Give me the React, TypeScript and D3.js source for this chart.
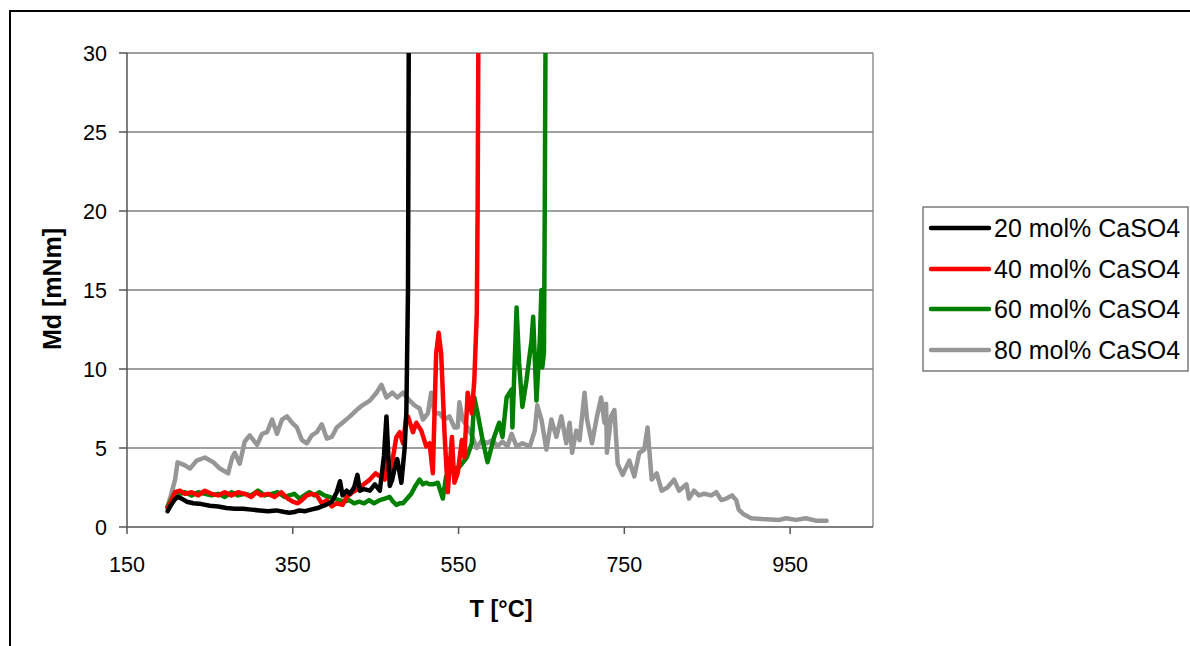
import React from "react";
import * as d3 from "d3";

const xTicks = [150, 350, 550, 750, 950];
const yTicks = [0, 5, 10, 15, 20, 25, 30];

const seriesNames = ["20 mol% CaSO4", "40 mol% CaSO4", "60 mol% CaSO4", "80 mol% CaSO4"];
const seriesColors = ["#000000", "#ff0000", "#008000", "#969696"];

// [T (°C), Md (mNm)]
const black20: [number, number][] = [
  [199, 1.0], [202, 1.3], [207, 1.7], [211, 1.9], [216, 1.8], [222, 1.6], [230, 1.5], [240, 1.45],
  [250, 1.35], [260, 1.3], [270, 1.2], [280, 1.15], [290, 1.15], [300, 1.1], [310, 1.05], [320, 1.0],
  [330, 1.05], [340, 0.95], [346, 0.9], [352, 0.95], [358, 1.05], [365, 1.0], [372, 1.1], [380, 1.2],
  [385, 1.3], [390, 1.4], [397, 1.6], [403, 2.2], [407, 2.9], [410, 2.0], [415, 2.3], [419, 2.1],
  [424, 2.5], [428, 3.3], [431, 2.3], [436, 2.4], [443, 2.3], [449, 2.7], [455, 2.3], [460, 4.5],
  [463, 7.0], [467, 2.6], [470, 3.0], [472, 3.5], [476, 4.3], [481, 2.8], [485, 5.0], [487, 7.2],
  [489, 15], [490, 32],
];

const red40: [number, number][] = [
  [199, 1.2], [203, 1.6], [208, 2.2], [214, 2.3], [220, 2.1], [228, 2.2], [236, 2.0], [244, 2.3],
  [252, 2.1], [260, 2.0], [268, 2.2], [276, 2.0], [284, 2.2], [292, 2.1], [300, 1.9], [306, 2.2],
  [312, 2.0], [320, 2.1], [328, 1.9], [336, 2.2], [344, 1.8], [350, 1.6], [356, 1.5], [361, 1.7],
  [367, 2.0], [373, 2.1], [379, 2.0], [385, 1.5], [391, 1.7], [397, 1.3], [403, 1.5], [410, 1.4],
  [415, 1.9], [422, 2.2], [431, 2.5], [438, 2.8], [443, 3.0], [450, 3.4], [455, 3.2], [461, 3.0],
  [464, 4.7], [467, 3.4], [470, 4.1], [475, 5.7], [479, 6.0], [483, 5.3], [487, 7.0], [489, 7.0],
  [495, 6.0], [499, 6.6], [505, 6.1], [511, 5.1], [515, 5.3], [519, 3.4], [523, 11.0], [526, 12.3],
  [529, 11.0], [533, 6.0], [537, 2.2], [542, 5.7], [545, 2.8], [549, 3.4], [554, 5.5], [557, 4.4],
  [561, 8.5], [566, 7.2], [569, 9.3], [572, 13.5], [573, 20], [574, 32],
];

const green60: [number, number][] = [
  [199, 1.3], [203, 1.7], [208, 2.2], [214, 2.1], [220, 2.2], [228, 2.0], [236, 2.2], [244, 2.1],
  [252, 2.0], [260, 2.1], [268, 1.9], [276, 2.2], [284, 2.0], [292, 2.1], [300, 2.0], [308, 2.3],
  [316, 2.0], [324, 2.1], [332, 2.2], [340, 1.9], [346, 2.0], [352, 2.1], [358, 1.8], [364, 2.0],
  [370, 2.2], [376, 2.0], [382, 2.2], [388, 2.0], [394, 1.9], [400, 1.8], [406, 1.7], [412, 1.6],
  [418, 1.7], [424, 1.5], [430, 1.6], [436, 1.5], [442, 1.7], [448, 1.5], [455, 1.7], [461, 1.8],
  [467, 1.9], [471, 1.6], [475, 1.4], [479, 1.5], [483, 1.5], [488, 1.8], [493, 2.1], [498, 2.6],
  [503, 3.0], [507, 2.7], [511, 2.8], [515, 2.7], [519, 2.7], [525, 2.8], [531, 1.8], [535, 3.2],
  [542, 3.6], [551, 3.8], [560, 4.4], [566, 5.3], [569, 8.2], [573, 7.2], [579, 5.5], [585, 4.1],
  [593, 5.7], [599, 6.6], [603, 5.7], [608, 8.2], [614, 8.7], [615, 6.3], [620, 13.9], [623, 10.4],
  [627, 7.6], [632, 9.3], [638, 11.8], [640, 13.3], [644, 8.0], [648, 11.8], [650, 15], [651, 10.1],
  [653, 11], [654, 20], [655, 32],
];

const gray80: [number, number][] = [
  [199, 1.3], [203, 2.0], [208, 3.0], [211, 4.1], [220, 3.9], [226, 3.7], [234, 4.2], [244, 4.4],
  [254, 4.1], [262, 3.7], [272, 3.4], [277, 4.4], [280, 4.7], [286, 4.0], [292, 5.4], [298, 5.8],
  [307, 5.2], [313, 5.9], [319, 6.0], [325, 6.8], [331, 5.9], [337, 6.8], [343, 7.0], [349, 6.6],
  [355, 6.3], [361, 5.5], [367, 5.3], [373, 5.8], [379, 6.0], [385, 6.5], [391, 5.6], [397, 5.7],
  [403, 6.3], [410, 6.6], [419, 7.0], [427, 7.4], [434, 7.7], [443, 8.0], [451, 8.5], [457, 9.0],
  [463, 8.2], [470, 8.5], [476, 8.2], [483, 8.5], [491, 8.0], [497, 7.7], [503, 7.5], [507, 6.8],
  [513, 7.2], [517, 8.5], [521, 7.2], [527, 7.2], [533, 6.8], [539, 7.0], [545, 6.3], [549, 6.3],
  [551, 7.9], [555, 6.8], [561, 6.3], [567, 5.7], [572, 5.0], [578, 5.5], [584, 5.3], [591, 5.5],
  [597, 5.1], [603, 5.4], [609, 5.1], [614, 5.9], [620, 5.1], [627, 5.3], [636, 5.1], [642, 6.1],
  [645, 7.7], [650, 6.8], [656, 4.9], [662, 6.8], [668, 5.7], [674, 7.0], [680, 5.3], [684, 6.6],
  [687, 4.7], [692, 6.1], [696, 5.5], [702, 8.5], [705, 6.8], [711, 5.3], [717, 7.0], [722, 8.2],
  [726, 6.6], [728, 7.8], [729, 4.7], [734, 7.0], [738, 7.4], [742, 4.0], [748, 3.3], [756, 4.2],
  [762, 3.2], [768, 4.7], [774, 4.9], [778, 6.3], [783, 3.0], [789, 3.4], [795, 2.3], [802, 2.5],
  [810, 3.0], [816, 2.3], [825, 2.7], [828, 1.8], [834, 2.3], [840, 2.0], [846, 2.1], [855, 2.0],
  [861, 2.2], [867, 1.7], [873, 1.8], [880, 2.0], [885, 1.7], [888, 1.1], [894, 0.8], [903, 0.55],
  [916, 0.5], [937, 0.45], [945, 0.55], [957, 0.45], [969, 0.55], [981, 0.4], [994, 0.4],
];

const allSeries = [black20, red40, green60, gray80];

const FONT = "Arial, 'Liberation Sans', sans-serif";

export default function App() {
  const left = 127, right = 873, top = 53, bottom = 527;
  const x = d3.scaleLinear().domain([150, 1050]).range([left, right]);
  const y = d3.scaleLinear().domain([0, 30]).range([bottom, top]);
  const line = d3.line<[number, number]>().x(d => x(d[0])).y(d => y(d[1])).curve(d3.curveLinear);

  const legX = 923, legY = 207, legW = 265, legH = 164;
  const rowY = [228, 269, 309, 350];

  return (
    <div style={{ position: "fixed", left: 0, top: 0 }}>
      <svg width={1190} height={646} style={{ display: "block", background: "#fff" }} fontFamily={FONT}>
        <defs>
          <clipPath id="plotClip">
            <rect x={left} y={top} width={right - left} height={bottom - top} />
          </clipPath>
        </defs>
        {/* outer frame */}
        <line x1={10} y1={11} x2={1190} y2={11} stroke="#000" strokeWidth={2} />
        <line x1={10} y1={10} x2={10} y2={646} stroke="#000" strokeWidth={2} />

        {/* gridlines */}
        {yTicks.filter(t => t > 0).map(t => (
          <line key={t} x1={left} x2={right} y1={y(t)} y2={y(t)} stroke="#808080" strokeWidth={1.3} />
        ))}
        {/* plot area right border */}
        <line x1={right} x2={right} y1={top} y2={bottom} stroke="#808080" strokeWidth={1.3} />

        {/* axes */}
        <line x1={left} x2={left} y1={top} y2={bottom} stroke="#555" strokeWidth={1.5} />
        <line x1={left} x2={right} y1={bottom} y2={bottom} stroke="#555" strokeWidth={1.5} />
        {yTicks.map(t => (
          <g key={t}>
            <line x1={left - 8} x2={left} y1={y(t)} y2={y(t)} stroke="#555" strokeWidth={1.5} />
            <text x={107} y={y(t)} dy="0.36em" textAnchor="end" fontSize={21.5}>{t}</text>
          </g>
        ))}
        {xTicks.map(t => (
          <g key={t}>
            <line x1={x(t)} x2={x(t)} y1={bottom} y2={bottom + 7} stroke="#555" strokeWidth={1.5} />
            <text x={x(t)} y={572} textAnchor="middle" fontSize={21.5}>{t}</text>
          </g>
        ))}

        {/* series */}
        <g clipPath="url(#plotClip)">
          {allSeries.slice().reverse().map((s, i) => {
            const idx = allSeries.length - 1 - i;
            return (
              <path key={idx} d={line(s) || ""} fill="none" stroke={seriesColors[idx]}
                strokeWidth={4.5} strokeLinejoin="round" strokeLinecap="round" />
            );
          })}
        </g>

        {/* axis titles */}
        <text x={501} y={617} textAnchor="middle" fontSize={23.5} fontWeight="bold">T [°C]</text>
        <text transform="translate(61,289) rotate(-90)" textAnchor="middle" fontSize={25} fontWeight="bold">Md [mNm]</text>

        {/* legend */}
        <rect x={legX} y={legY} width={legW} height={legH} fill="#fff" stroke="#666" strokeWidth={1.3} />
        {seriesNames.map((n, i) => (
          <g key={n}>
            <line x1={931} x2={989} y1={rowY[i]} y2={rowY[i]} stroke={seriesColors[i]} strokeWidth={4.5} strokeLinecap="round" />
            <text x={994} y={rowY[i]} dy="0.36em" fontSize={25}>{n}</text>
          </g>
        ))}
      </svg>
    </div>
  );
}
